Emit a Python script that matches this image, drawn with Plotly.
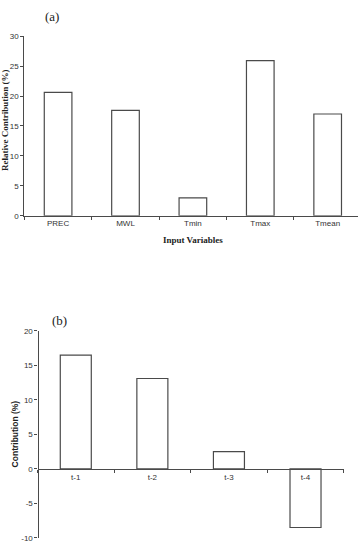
import plotly.graph_objects as go

W, H = 358, 553

# Panel (a) data
vars_a = ["PREC", "MWL", "Tmin", "Tmax", "Tmean"]
contrib_a = [20.6, 17.6, 3.0, 25.9, 17.0]
yticks_a = [0, 5, 10, 15, 20, 25, 30]

# Panel (b) data
lags_b = ["t-1", "t-2", "t-3", "t-4"]
contrib_b = [16.5, 13.1, 2.5, -8.5]
yticks_b = [-10, -5, 0, 5, 10, 15, 20]
yticklabels_b = ["-10", "-5", "0", "5", "10", "15", "20"]


def px(x):
    return x / W


def py(y):
    return 1 - y / H


LINE = "#4a4a4a"
TICKFONT = dict(family="Liberation Sans, Arial", size=8, color="#333")

fig = go.Figure()
fig.add_trace(go.Bar(x=vars_a, y=contrib_a, width=0.41, xaxis="x", yaxis="y",
                     marker=dict(color="white", line=dict(color=LINE, width=1.2)),
                     showlegend=False))
fig.add_trace(go.Bar(x=lags_b, y=contrib_b, width=0.405, xaxis="x2", yaxis="y2",
                     marker=dict(color="white", line=dict(color=LINE, width=1.2)),
                     showlegend=False))

# y positions (pixels) for axes
ya_top, ya_bot = 32.7, 215.3
yb_top, yb_bot = 332.3, 542.7
yb_zero = 472.7


def ann(text, x, y, font, angle=0):
    return dict(text=text, x=px(x), y=py(y), xref="paper", yref="paper",
                xanchor="center", yanchor="middle", textangle=angle,
                showarrow=False, font=font)


SERIF = "Liberation Serif, Times New Roman"
SANS = "Liberation Sans, Arial"

fig.update_layout(
    width=W, height=H,
    margin=dict(l=0, r=0, t=0, b=0),
    paper_bgcolor="white", plot_bgcolor="white",
    xaxis=dict(domain=[px(24.4), 1.0], range=[-0.5, 4.45], anchor="y",
               showline=True, linecolor=LINE, linewidth=1.2,
               ticks="outside", ticklen=3, tickcolor=LINE, tickson="boundaries",
               tickfont=TICKFONT, showgrid=False, zeroline=False),
    yaxis=dict(domain=[py(ya_bot), py(ya_top)], range=[0, 30], anchor="x",
               tickvals=yticks_a, showline=True, linecolor=LINE, linewidth=1.2,
               ticks="outside", ticklen=3, tickcolor=LINE,
               tickfont=TICKFONT, showgrid=False, zeroline=False),
    xaxis2=dict(domain=[px(37.5), px(343.8)], range=[-0.5, 3.5], anchor="free",
                position=py(yb_zero),
                showline=True, linecolor=LINE, linewidth=1.2,
                ticks="outside", ticklen=3, tickcolor=LINE, tickson="boundaries",
                tickfont=TICKFONT, showgrid=False, zeroline=False),
    yaxis2=dict(domain=[py(yb_bot), py(yb_top)], range=[-10, 20], anchor="free",
                position=px(37.5),
                tickvals=yticks_b, ticktext=yticklabels_b,
                showline=True, linecolor=LINE, linewidth=1.2,
                ticks="outside", ticklen=3, tickcolor=LINE,
                tickfont=TICKFONT, showgrid=False, zeroline=False),
    annotations=[
        ann("(a)", 51.5, 12.5, dict(family=SERIF, size=13, color="#222")),
        ann("<b>Relative Contribution (%)</b>", 5, 118, dict(family=SERIF, size=9, color="#222"), -90),
        ann("<b>Input Variables</b>", 192.7, 240, dict(family=SERIF, size=9, color="#222")),
        ann("(b)", 59.5, 322, dict(family=SERIF, size=13, color="#222")),
        ann("<b>Contribution (%)</b>", 15, 437.5, dict(family=SANS, size=8.5, color="#222"), -90),
    ],
)

fig.write_html("out.html")
